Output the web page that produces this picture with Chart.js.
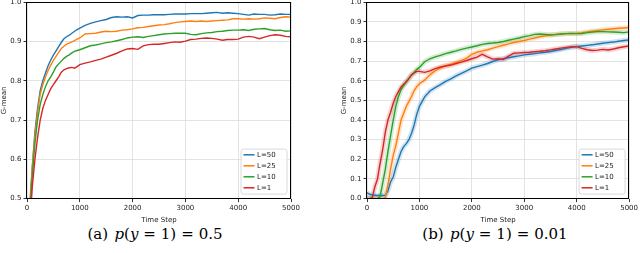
<!DOCTYPE html>
<html>
<head>
<meta charset="utf-8">
<script src="https://cdn.jsdelivr.net/npm/chart.js@4.4.0/dist/chart.umd.min.js"></script>
<style>
  html, body { margin:0; padding:0; background:#fff; }
  body { width:640px; height:253px; position:relative; overflow:hidden; }
  .cw { position:absolute; width:320px; height:228px; }
  .cap { position:absolute; font-family:"DejaVu Serif","Liberation Serif",serif; font-size:15px; color:#000; white-space:nowrap; transform:translateX(-50%); }
  .cap i { font-style:italic; }
  .cap .eq { margin:0 0.33em; }
  .cap .sp { margin-right:0.1em; }
</style>
</head>
<body>
<div class="cw" id="w1" style="left:0;top:-3.9px"><canvas id="c1" width="320" height="228"></canvas></div>
<div class="cw" id="w2" style="left:320px;top:-3.9px"><canvas id="c2" width="320" height="228"></canvas></div>
<div class="cap" style="left:155px;top:225px"><span class="sp">(a)</span> <i>p</i>(<i>y</i><span class="eq">=</span>1)<span class="eq">=</span>0.5</div>
<div class="cap" style="left:495px;top:225px"><span class="sp">(b)</span> <i>p</i>(<i>y</i><span class="eq">=</span>1)<span class="eq">=</span>0.01</div>
<script>
// ---- data ----
const timeSteps = [0,50,100,150,200,250,300,350,400,450,500,550,600,650,700,750,800,850,900,950,1000,
  1100,1200,1300,1400,1500,1600,1700,1800,1900,2000,2100,2200,2300,2400,2500,2600,2700,2800,2900,3000,
  3100,3200,3300,3400,3500,3600,3700,3800,3900,4000,4100,4200,4300,4400,4500,4600,4700,4800,4900,5000];
const seriesLabels = ["L=50","L=25","L=10","L=1"];
const seriesColors = ["#1f77b4","#ff7f0e","#2ca02c","#d62728"];

// (a) p(y=1)=0.5
const a_L50 = [0.30,0.48,0.58,0.67,0.73,0.775,0.80,0.82,0.838,0.853,0.865,0.876,0.887,0.898,0.907,0.912,0.916,0.921,0.926,0.930,0.934,
  0.941,0.946,0.950,0.953,0.956,0.961,0.963,0.962,0.963,0.960,0.966,0.967,0.967,0.968,0.968,0.968,0.969,0.970,0.970,0.970,
  0.971,0.971,0.971,0.972,0.973,0.974,0.972,0.973,0.972,0.971,0.969,0.967,0.970,0.969,0.969,0.967,0.968,0.970,0.969,0.969];
const a_L25 = [0.30,0.47,0.58,0.66,0.72,0.765,0.79,0.81,0.826,0.84,0.852,0.862,0.872,0.882,0.888,0.893,0.896,0.899,0.902,0.906,0.909,
  0.919,0.920,0.921,0.924,0.926,0.925,0.926,0.929,0.930,0.932,0.935,0.936,0.938,0.940,0.942,0.943,0.945,0.948,0.950,0.951,
  0.952,0.951,0.952,0.951,0.952,0.953,0.954,0.955,0.958,0.958,0.957,0.958,0.957,0.958,0.960,0.959,0.958,0.961,0.963,0.962];
const a_L10 = [0.28,0.45,0.56,0.64,0.70,0.74,0.765,0.785,0.80,0.81,0.822,0.835,0.843,0.850,0.857,0.862,0.866,0.871,0.875,0.877,0.879,
  0.884,0.889,0.891,0.894,0.897,0.899,0.902,0.905,0.909,0.911,0.912,0.910,0.913,0.915,0.917,0.919,0.920,0.921,0.921,0.921,
  0.918,0.917,0.920,0.922,0.923,0.925,0.926,0.928,0.929,0.929,0.930,0.928,0.931,0.932,0.933,0.930,0.928,0.929,0.926,0.927];
const a_L1 = [0.25,0.42,0.53,0.60,0.655,0.70,0.73,0.75,0.765,0.78,0.79,0.80,0.81,0.822,0.828,0.831,0.833,0.834,0.832,0.836,0.841,
  0.845,0.848,0.852,0.855,0.860,0.865,0.870,0.876,0.881,0.882,0.880,0.889,0.892,0.893,0.893,0.895,0.897,0.899,0.898,0.901,
  0.905,0.906,0.908,0.909,0.908,0.906,0.903,0.905,0.905,0.906,0.911,0.913,0.911,0.907,0.911,0.915,0.917,0.916,0.913,0.912];

// (b) p(y=1)=0.01
const b_L50 = [0.030,0.022,0.018,0.017,0.016,0.016,0.016,0.017,0.040,0.085,0.11,0.16,0.20,0.24,0.265,0.28,0.30,0.333,0.375,0.43,0.47,
  0.518,0.548,0.565,0.580,0.597,0.610,0.625,0.638,0.650,0.664,0.672,0.680,0.688,0.698,0.706,0.712,0.717,0.722,0.727,0.732,
  0.735,0.738,0.742,0.745,0.749,0.754,0.759,0.765,0.770,0.774,0.777,0.780,0.783,0.787,0.791,0.794,0.797,0.801,0.805,0.808];
const b_L25 = [0,0,0,0,0,0,0,0.005,0.07,0.15,0.22,0.27,0.335,0.40,0.435,0.47,0.495,0.52,0.55,0.57,0.585,
  0.603,0.630,0.650,0.665,0.677,0.685,0.694,0.703,0.715,0.735,0.745,0.752,0.758,0.766,0.774,0.781,0.788,0.795,0.800,0.805,
  0.812,0.818,0.824,0.829,0.833,0.836,0.838,0.840,0.841,0.842,0.845,0.849,0.853,0.856,0.859,0.862,0.865,0.867,0.869,0.871];
const b_L10 = [0,0,0,0,0,0.01,0.08,0.15,0.24,0.32,0.40,0.47,0.52,0.555,0.575,0.595,0.612,0.630,0.642,0.658,0.668,
  0.697,0.712,0.722,0.729,0.738,0.745,0.752,0.760,0.766,0.772,0.778,0.785,0.790,0.792,0.795,0.800,0.806,0.812,0.818,0.825,
  0.830,0.836,0.838,0.836,0.833,0.835,0.838,0.840,0.841,0.840,0.841,0.845,0.848,0.850,0.850,0.849,0.848,0.847,0.845,0.849];
const b_L1 = [0,0,0.005,0.06,0.10,0.18,0.25,0.34,0.40,0.44,0.485,0.52,0.545,0.568,0.582,0.595,0.612,0.630,0.640,0.648,0.648,
  0.643,0.650,0.662,0.670,0.675,0.680,0.688,0.695,0.703,0.712,0.720,0.735,0.722,0.710,0.712,0.708,0.725,0.740,0.742,0.744,
  0.745,0.748,0.750,0.753,0.757,0.762,0.766,0.770,0.773,0.774,0.765,0.758,0.754,0.756,0.760,0.757,0.762,0.768,0.773,0.777];

const xTicks = [0,1000,2000,3000,4000,5000];
const yTicksA = [0.5,0.6,0.7,0.8,0.9,1.0];
const yTicksB = [0.0,0.1,0.2,0.3,0.4,0.5,0.6,0.7,0.8,0.9,1.0];

// ---- helpers ----
function pts(vals){ return timeSteps.map((t,i)=>({x:t,y:vals[i]})); }
function hexA(hex,a){ const n=parseInt(hex.slice(1),16); return `rgba(${n>>16},${(n>>8)&255},${n&255},${a})`; }

const frameLegend = {
  id:'frameLegend',
  afterDraw(chart){
    const ctx=chart.ctx, a=chart.chartArea;
    ctx.save();
    ctx.strokeStyle='#000'; ctx.lineWidth=1;
    ctx.strokeRect(Math.round(a.left)+0.5-1, Math.round(a.top)+0.5, Math.round(a.right-a.left), Math.round(a.bottom-a.top));
    const w=46, h=45, x=a.right-4-w, y=a.bottom-4.5-h, r=2.5;
    ctx.beginPath();
    ctx.moveTo(x+r,y); ctx.lineTo(x+w-r,y); ctx.quadraticCurveTo(x+w,y,x+w,y+r);
    ctx.lineTo(x+w,y+h-r); ctx.quadraticCurveTo(x+w,y+h,x+w-r,y+h);
    ctx.lineTo(x+r,y+h); ctx.quadraticCurveTo(x,y+h,x,y+h-r);
    ctx.lineTo(x,y+r); ctx.quadraticCurveTo(x,y,x+r,y); ctx.closePath();
    ctx.fillStyle='rgba(255,255,255,0.85)'; ctx.fill();
    ctx.strokeStyle='#d0d0d0'; ctx.lineWidth=0.8; ctx.stroke();
    ctx.font='7px "DejaVu Sans"'; ctx.textBaseline='middle'; ctx.fillStyle='#222';
    const items = chart.data.datasets.filter(d=>!d.isBand);
    items.forEach((d,i)=>{
      const yy = y+5.7+i*11;
      ctx.strokeStyle=d.borderColor; ctx.lineWidth=1.5;
      ctx.beginPath(); ctx.moveTo(x+2.5,yy); ctx.lineTo(x+13.5,yy); ctx.stroke();
      ctx.fillText(d.label, x+16, yy+0.5);
    });
    ctx.restore();
  }
};

function makeChart(id, series, yMin, yTicks, withBands, pad){
  const datasets=[];
  series.forEach((vals,i)=>{
    datasets.push({label:seriesLabels[i], data:pts(vals), borderColor:seriesColors[i], borderWidth:1.4,
      pointRadius:0, tension:0, order:4-i});
    if(withBands){
      datasets.push({label:'band', isBand:true, data:pts(vals), borderColor:hexA(seriesColors[i],0.2), borderWidth:5,
        pointRadius:0, tension:0, order:10, clip:0, borderJoinStyle:'round'});
    }
  });
  const tickFont={family:'DejaVu Sans', size:7};
  return new Chart(document.getElementById(id), {
    type:'line',
    data:{datasets},
    plugins:[frameLegend],
    options:{
      responsive:false, animation:false, events:[],
      layout:{padding:pad},
      plugins:{legend:{display:false}, tooltip:{enabled:false}},
      scales:{
        x:{type:'linear', min:0, max:5000,
          afterBuildTicks(s){ s.ticks = xTicks.map(v=>({value:v})); },
          ticks:{font:tickFont, color:'#222', padding:2, maxRotation:0, callback:v=>String(v)},
          grid:{color:'#dcdcdc', lineWidth:0.8, borderDash:[2,2], tickLength:3.5, tickColor:'#000', tickWidth:0.8, tickBorderDash:[]},
          border:{display:false},
          title:{display:true, text:'Time Step', font:{family:'DejaVu Sans', size:7}, color:'#222', padding:{top:0,bottom:0}},
          afterFit(s){ s.height = 25.4; }
        },
        y:{type:'linear', min:yMin, max:1.0,
          afterBuildTicks(s){ s.ticks = yTicks.map(v=>({value:v})); },
          ticks:{font:tickFont, color:'#222', padding:2, callback:v=>Number(v).toFixed(1)},
          grid:{color:'#dcdcdc', lineWidth:0.8, borderDash:[2,2], tickLength:3.5, tickColor:'#000', tickWidth:0.8, tickBorderDash:[]},
          border:{display:false},
          title:{display:true, text:'G-mean', font:{family:'DejaVu Sans', size:7}, color:'#222', padding:{top:0,bottom:0}},
          afterFit(s){ s.width = 27; }
        }
      }
    }
  });
}

makeChart('c1', [a_L50,a_L25,a_L10,a_L1], 0.5, yTicksA, false, {left:0,right:29,top:2.3,bottom:0});
makeChart('c2', [b_L50,b_L25,b_L10,b_L1], 0.0, yTicksB, true, {left:20,right:10,top:2.3,bottom:0});
</script>
</body>
</html>
